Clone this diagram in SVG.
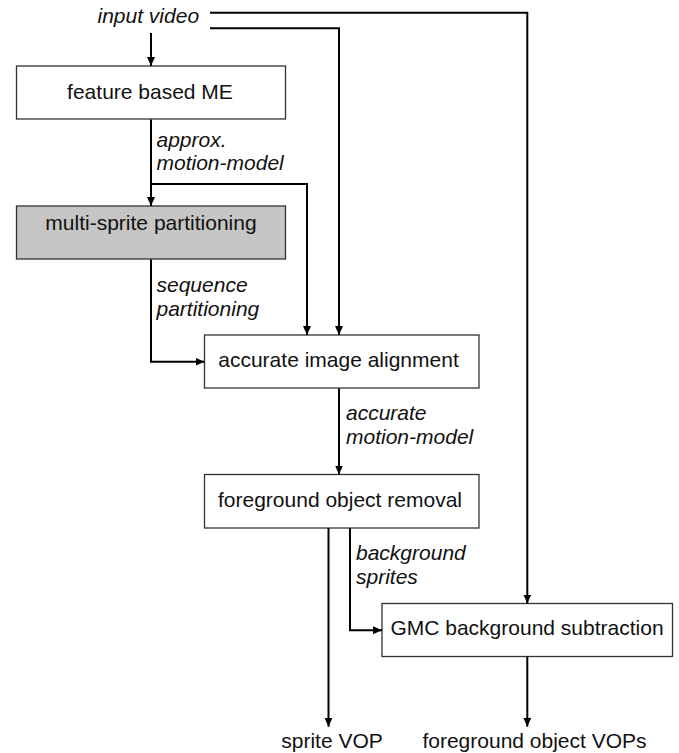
<svg xmlns="http://www.w3.org/2000/svg" width="679" height="753" viewBox="0 0 679 753">
  <style>
    .box { fill: #ffffff; stroke: #333333; stroke-width: 1.3; }
    .gray { fill: #c8c8c8; }
    .t { font-family: "Liberation Sans", Arial, sans-serif; font-size: 21px; fill: #111111; }
    .m { text-anchor: middle; }
    .i { font-style: italic; }
    .c { fill: none; stroke: #000000; stroke-width: 2; }
  </style>
  <defs>
    <marker id="ah" markerUnits="userSpaceOnUse" markerWidth="10" markerHeight="9" refX="9" refY="4" orient="auto">
      <path d="M0,0 L9,4 L0,8 z" fill="#000000"/>
    </marker>
    <filter id="grain" x="0" y="0" width="100%" height="100%">
      <feTurbulence type="fractalNoise" baseFrequency="0.9" numOctaves="2" seed="3" result="n"/>
      <feColorMatrix type="matrix" values="0 0 0 0 0.5  0 0 0 0 0.5  0 0 0 0 0.5  0 0 0 0.35 0" in="n" result="g"/>
      <feComposite in="g" in2="SourceGraphic" operator="in" result="gi"/>
      <feMerge><feMergeNode in="SourceGraphic"/><feMergeNode in="gi"/></feMerge>
    </filter>
  </defs>

  <g id="input-video">
    <text class="t i" x="97.5" y="23">input video</text>
  </g>

  <g id="feature-based-me">
    <rect class="box" x="16.5" y="66" width="269" height="53"/>
    <text class="t m" x="150" y="98.5">feature based ME</text>
  </g>

  <g id="multi-sprite-partitioning">
    <rect class="gray" x="16.5" y="206" width="269" height="53" filter="url(#grain)"/>
    <rect class="box" x="16.5" y="206" width="269" height="53" fill="none" style="fill:none"/>
    <text class="t m" x="151" y="230">multi-sprite partitioning</text>
  </g>

  <g id="accurate-image-alignment">
    <rect class="box" x="204.5" y="335" width="274.5" height="53"/>
    <text class="t m" x="338.5" y="367">accurate image alignment</text>
  </g>

  <g id="foreground-object-removal">
    <rect class="box" x="204.5" y="474.5" width="274.5" height="53.5"/>
    <text class="t m" x="340" y="506.5">foreground object removal</text>
  </g>

  <g id="gmc-background-subtraction">
    <rect class="box" x="382" y="603.5" width="290.5" height="53"/>
    <text class="t m" x="527" y="635">GMC background subtraction</text>
  </g>

  <g id="sprite-vop">
    <text class="t m" x="332" y="748">sprite VOP</text>
  </g>

  <g id="foreground-object-vops">
    <text class="t m" x="534.5" y="748">foreground object VOPs</text>
  </g>

  <g id="connectors">
    <path class="c" d="M151,33 V66" marker-end="url(#ah)"/>
    <path class="c" d="M210,12.7 H527.3 V603.5" marker-end="url(#ah)"/>
    <path class="c" d="M210,28.3 H339 V335" marker-end="url(#ah)"/>
    <path class="c" d="M151,119.5 V206" marker-end="url(#ah)"/>
    <path class="c" d="M151,184 H307 V335" marker-end="url(#ah)"/>
    <path class="c" d="M151,259.5 V361.7 H204.5" marker-end="url(#ah)"/>
    <path class="c" d="M339,388.5 V474.5" marker-end="url(#ah)"/>
    <path class="c" d="M328.5,528 V726.7" marker-end="url(#ah)"/>
    <path class="c" d="M350,528 V630.3 H382" marker-end="url(#ah)"/>
    <path class="c" d="M527.3,656.7 V726.7" marker-end="url(#ah)"/>

    <text class="t i" x="156.5" y="146.5">approx.</text>
    <text class="t i" x="156.5" y="170">motion-model</text>
    <text class="t i" x="156.5" y="292">sequence</text>
    <text class="t i" x="156.5" y="316">partitioning</text>
    <text class="t i" x="346" y="419.5">accurate</text>
    <text class="t i" x="346" y="443.5">motion-model</text>
    <text class="t i" x="356" y="560">background</text>
    <text class="t i" x="356" y="583.5">sprites</text>
  </g>
</svg>
